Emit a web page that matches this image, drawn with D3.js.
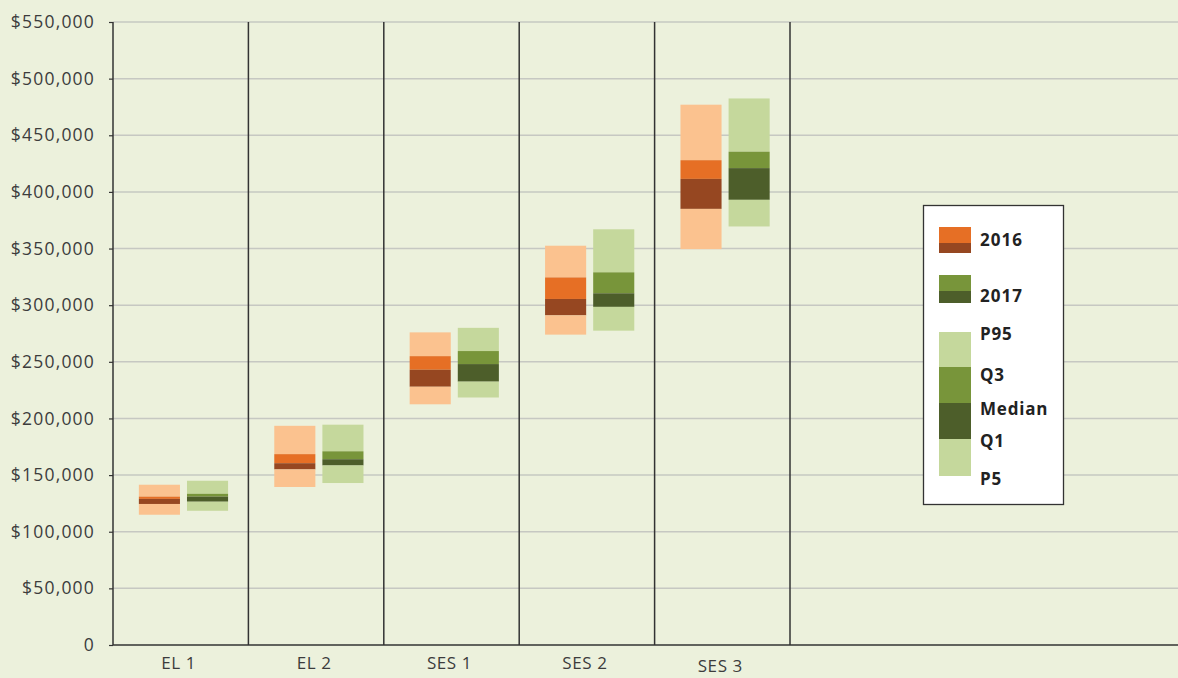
<!DOCTYPE html>
<html>
<head>
<meta charset="utf-8">
<script src="https://cdn.jsdelivr.net/npm/d3@7"></script>
<style>
  html, body { margin: 0; padding: 0; background: #ECF1DC; }
  svg { display: block; }
  text { font-family: "Open Sans", "Lato", sans-serif; }
</style>
</head>
<body>
<svg id="chart" width="1178" height="678"></svg>
<script>
const categories = ["EL 1", "EL 2", "SES 1", "SES 2", "SES 3"];
const years = ["2016", "2017"];
const yTicks = [0, 50000, 100000, 150000, 200000, 250000, 300000, 350000, 400000, 450000, 500000, 550000];

const p5_2016     = [115000, 139500, 212500, 274000, 349500];
const q1_2016     = [124500, 155000, 228000, 291000, 385000];
const median_2016 = [129000, 160500, 243000, 305500, 411500];
const q3_2016     = [131000, 168500, 255000, 324500, 428000];
const p95_2016    = [141500, 193500, 276000, 352500, 477000];

const p5_2017     = [118500, 143000, 218500, 277500, 369500];
const q1_2017     = [126500, 158500, 232500, 298500, 393000];
const median_2017 = [131000, 164000, 248000, 310500, 421000];
const q3_2017     = [133500, 171000, 259500, 329000, 435500];
const p95_2017    = [145000, 194500, 280000, 367000, 482500];

const legendStats = ["P95", "Q3", "Median", "Q1", "P5"];

const colors = {
  "2016": { light: "#FBC28F", mid: "#E66F25", dark: "#964721" },
  "2017": { light: "#C5D89C", mid: "#78953A", dark: "#4D5E2A" }
};

const stats = {
  "2016": { p5: p5_2016, q1: q1_2016, med: median_2016, q3: q3_2016, p95: p95_2016 },
  "2017": { p5: p5_2017, q1: q1_2017, med: median_2017, q3: q3_2017, p95: p95_2017 }
};

const svg = d3.select("#chart");
const W = 1178;
const mLeft = 113, mTop = 22, mBottom = 645, catRight = 790;

const y = d3.scaleLinear().domain([0, 550000]).range([mBottom, mTop]);
const x = d3.scaleBand().domain(categories).range([mLeft, catRight]);
const xi = d3.scaleBand().domain(years).range([0, x.bandwidth()]).paddingInner(0.146).paddingOuter(0.48).align(0.56);

// horizontal grid
svg.append("g").selectAll("line").data(yTicks.filter(d => d > 0)).join("line")
  .attr("x1", mLeft).attr("x2", W)
  .attr("y1", d => y(d)).attr("y2", d => y(d))
  .attr("stroke", "#c6c8c2").attr("stroke-width", 1.5);

// y axis
const yAxis = d3.axisLeft(y).tickValues(yTicks).tickSize(4).tickPadding(14)
  .tickFormat(d => d === 0 ? "0" : "$" + d3.format(",")(d));
const gy = svg.append("g").attr("transform", `translate(${mLeft},0)`).call(yAxis);
gy.select(".domain").remove();
gy.selectAll(".tick line").attr("stroke", "#333").attr("stroke-width", 1.2);
gy.selectAll(".tick text").attr("fill", "#3c3c3c").style("font-size", "17.5px").style("letter-spacing", "1.2px");

// vertical dividers
const dividers = [mLeft].concat(categories.map(c => x(c) + x.bandwidth()));
svg.append("g").selectAll("line").data(dividers).join("line")
  .attr("x1", d => d).attr("x2", d => d)
  .attr("y1", mTop).attr("y2", mBottom)
  .attr("stroke", "#333").attr("stroke-width", 1.5);

// bars
const segs = [
  { lo: "q3", hi: "p95", c: "light" },
  { lo: "med", hi: "q3", c: "mid" },
  { lo: "q1", hi: "med", c: "dark" },
  { lo: "p5", hi: "q1", c: "light" }
];
years.forEach(yr => {
  const g = svg.append("g");
  categories.forEach((cat, i) => {
    segs.forEach(s => {
      const vlo = stats[yr][s.lo][i], vhi = stats[yr][s.hi][i];
      g.append("rect")
        .attr("x", x(cat) + xi(yr))
        .attr("width", xi.bandwidth())
        .attr("y", y(vhi))
        .attr("height", y(vlo) - y(vhi))
        .attr("fill", colors[yr][s.c]);
    });
  });
});

// x axis line
svg.append("line").attr("x1", mLeft).attr("x2", W).attr("y1", mBottom).attr("y2", mBottom)
  .attr("stroke", "#333").attr("stroke-width", 1.5);

// x labels
svg.append("g").selectAll("text").data(categories).join("text")
  .attr("x", d => x(d) + x.bandwidth() / 2 - 2)
  .attr("y", d => d === "SES 3" ? 672 : 669)
  .attr("text-anchor", "middle")
  .attr("fill", "#3c3c3c")
  .style("font-size", "17px")
  .style("letter-spacing", "0.6px")
  .text(d => d);

// legend
const lg = svg.append("g");
lg.append("rect").attr("x", 923.5).attr("y", 205.5).attr("width", 140).attr("height", 299)
  .attr("fill", "#fff").attr("stroke", "#333").attr("stroke-width", 1.3);

const sx = 939, sw = 32;
[["2016", 227, 243, 253, 246], ["2017", 275, 291, 303, 302]].forEach(([yr, a, b, c, ty]) => {
  lg.append("rect").attr("x", sx).attr("y", a).attr("width", sw).attr("height", b - a).attr("fill", colors[yr].mid);
  lg.append("rect").attr("x", sx).attr("y", b).attr("width", sw).attr("height", c - b).attr("fill", colors[yr].dark);
  lg.append("text").attr("x", 980).attr("y", ty).text(yr)
    .attr("fill", "#222").style("font-size", "17px").style("font-weight", "bold").style("letter-spacing", "1px");
});
const statBlocks = [[332, 367, "light"], [367, 403, "mid"], [403, 439, "dark"], [439, 476, "light"]];
statBlocks.forEach(([a, b, c]) => {
  lg.append("rect").attr("x", sx).attr("y", a).attr("width", sw).attr("height", b - a).attr("fill", colors["2017"][c]);
});
const statY = [340, 381, 415, 447, 485];
legendStats.forEach((t, i) => {
  lg.append("text").attr("x", 980).attr("y", statY[i]).text(t)
    .attr("fill", "#222").style("font-size", "17px").style("font-weight", "bold").style("letter-spacing", "0.8px");
});
</script>
</body>
</html>
